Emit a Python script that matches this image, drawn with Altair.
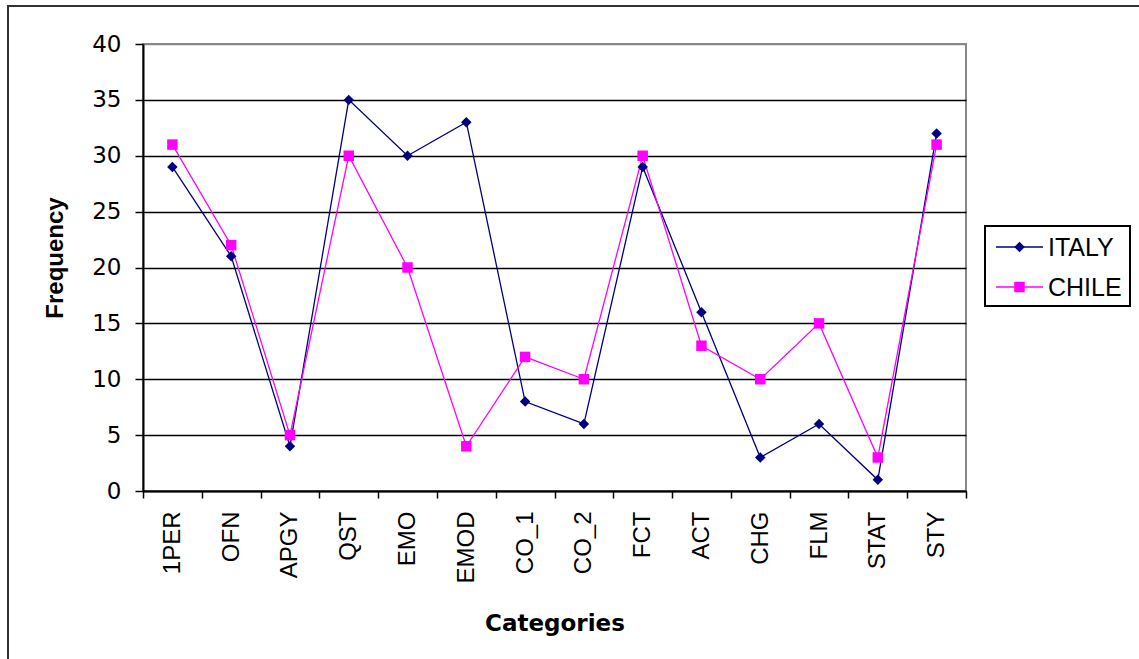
import altair as alt
import pandas as pd

categories = ["1PER", "OFN", "APGY", "QST", "EMO", "EMOD", "CO_1", "CO_2",
              "FCT", "ACT", "CHG", "FLM", "STAT", "STY"]
italy = [29, 21, 4, 35, 30, 33, 8, 6, 29, 16, 3, 6, 1, 32]
chile = [31, 22, 5, 30, 20, 4, 12, 10, 30, 13, 10, 15, 3, 31]
series_names = ["ITALY", "CHILE"]
series_colors = ["#000080", "#FF00FF"]
series_shapes = ["diamond", "square"]
y_ticks = [0, 5, 10, 15, 20, 25, 30, 35, 40]

rows = []
for name, vals in zip(series_names, [italy, chile]):
    for i, (c, v) in enumerate(zip(categories, vals)):
        rows.append({"category": c, "value": v, "series": name, "order": i})
df = pd.DataFrame(rows)

W, H = 823, 447

x_enc = alt.X(
    "category:N",
    sort=categories,
    scale=alt.Scale(type="band", paddingInner=0, paddingOuter=0),
    axis=alt.Axis(
        title="Categories",
        titleFont="DejaVu Sans", titleFontSize=23, titleFontWeight="bold",
        titleColor="#000", titleX=W / 2, titleY=132, titleAlign="center",
        titleBaseline="middle",
        labelAngle=270, labelFont="Liberation Sans", labelFontSize=24,
        labelColor="#000", labelPadding=13,
        tickBand="extent", tickSize=7, tickColor="#000", tickWidth=1.5,
        domainColor="#000", domainWidth=2, grid=False,
    ),
)
y_enc = alt.Y(
    "value:Q",
    scale=alt.Scale(domain=[0, 40], nice=False),
    axis=alt.Axis(
        title="Frequency", values=y_ticks,
        titleFont="Liberation Sans", titleFontSize=24, titleFontWeight="bold",
        titleColor="#000", titleAngle=270, titleX=-88, titleY=H / 2 - 10,
        titleAlign="center", titleBaseline="middle",
        labelFont="DejaVu Sans", labelFontSize=23, labelColor="#000",
        labelPadding=14, tickSize=8, tickColor="#000", tickWidth=1.5,
        domainColor="#000", domainWidth=2,
        grid=True,
        gridColor={"condition": {"test": "datum.value === 40", "value": "#888888"},
                   "value": "#000000"},
        gridWidth=1.5,
    ),
)

color_scale = alt.Scale(domain=series_names, range=series_colors)
shape_scale = alt.Scale(domain=series_names, range=series_shapes)

lines = alt.Chart(df).mark_line(strokeWidth=1.3).encode(
    x=x_enc, y=y_enc,
    color=alt.Color("series:N", scale=color_scale, legend=None),
    detail="series:N",
    order="order:Q",
)
points = alt.Chart(df).mark_point(filled=True, opacity=1, size=110).encode(
    x=x_enc, y=y_enc,
    color=alt.Color("series:N", scale=color_scale, legend=None),
    shape=alt.Shape("series:N", scale=shape_scale, legend=None),
)

one = alt.InlineData(values=[{"k": 1}])

# outer frame
frame = alt.Chart(one).mark_rect(fill=None, stroke="#333333", strokeWidth=2).encode(
    x=alt.value(-135), x2=alt.value(1010), y=alt.value(-38), y2=alt.value(630)
)

# legend box
lx0, lx1, ly0, ly1 = 842, 987, 182, 262
legend_box = alt.Chart(one).mark_rect(fill="white", stroke="#000", strokeWidth=2).encode(
    x=alt.value(lx0), x2=alt.value(lx1), y=alt.value(ly0), y2=alt.value(ly1)
)
legend_layers = [legend_box]
for i, name in enumerate(series_names):
    yy = 203 + 40 * i
    legend_layers.append(
        alt.Chart(one).mark_rule(color=series_colors[i], strokeWidth=1.3).encode(
            x=alt.value(853), x2=alt.value(900), y=alt.value(yy)
        )
    )
    legend_layers.append(
        alt.Chart(one).mark_point(filled=True, opacity=1, size=110,
                                  shape=series_shapes[i], color=series_colors[i]).encode(
            x=alt.value(876.5), y=alt.value(yy)
        )
    )
    legend_layers.append(
        alt.Chart(one).mark_text(align="left", baseline="middle", font="Liberation Sans",
                                 fontSize=25, color="#000").encode(
            x=alt.value(905), y=alt.value(yy + 1), text=alt.value(name)
        )
    )

chart = alt.layer(frame, lines, points, *legend_layers).properties(
    width=W, height=H,
    autosize=alt.AutoSizeParams(type="none"),
    padding={"left": 143, "top": 44, "right": 1139 - 143 - W, "bottom": 659 - 44 - H},
    background="white",
).configure_view(stroke="#888888", strokeWidth=2)

chart.save("out.html", embed_options={"renderer": "svg", "actions": False})
